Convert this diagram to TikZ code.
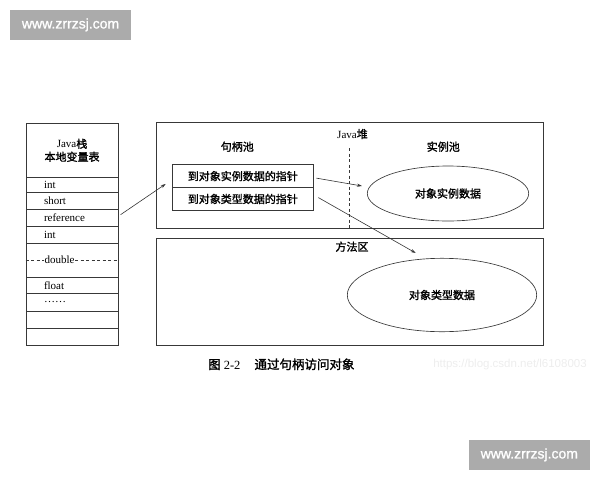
\documentclass[tikz,border=0pt]{standalone}
\usepackage{fontspec}
\setmainfont{Liberation Serif}
\newfontfamily\cjk{Noto Sans CJK SC}[FakeBold=1.6]
\newfontfamily\wmfont{Liberation Sans}[FakeBold=1.2]
\newfontfamily\wmlight{Liberation Sans}
\usetikzlibrary{shapes.geometric,arrows.meta,calc}
\begin{document}
\begin{tikzpicture}[x=1pt,y=-1pt,
  line/.style={draw=black!78, line width=0.65pt},
  cell/.style={line, rectangle, minimum width=92pt, inner xsep=18pt, text width=56pt,
     align=left, inner ysep=0pt, anchor=north west, font=\fontsize{11}{12}\selectfont},
  hcell/.style={line, rectangle, minimum width=140.4pt, inner sep=0pt, anchor=north west,
     font=\cjk\fontsize{11}{12}\selectfont},
  region/.style={line, rectangle, inner sep=0pt, anchor=north west},
  oval/.style={line, ellipse, inner sep=0pt, font=\cjk\fontsize{11}{12}\selectfont},
  lbl/.style={inner sep=0pt, font=\cjk\fontsize{11}{12}\selectfont},
  arr/.style={draw=black!80, line width=0.6pt, -{Stealth[length=5pt,width=3.2pt]}},
  wmbox/.style={fill=black!33, inner sep=0pt, anchor=north west, text=white,
     font=\wmfont\fontsize{14}{14}\selectfont},
]
\useasboundingbox (0,0) rectangle (600,480);

% watermarks
\node[wmbox, minimum width=120.7pt, minimum height=29.3pt] (wm1) at (10,10) {www.zrrzsj.com};
\node[wmbox, minimum width=121.7pt, minimum height=29.3pt] (wm2) at (468.3,440) {www.zrrzsj.com};
\node[inner sep=0pt, text=black!7, font=\wmlight\fontsize{11.5}{12}\selectfont] (wm3) at (510,364.3) {https://blog.csdn.net/l6108003};

% Java stack
\node[cell, minimum height=53.4pt, align=center, text width=56pt] (hdr) at (25.7,123.3)
  {Java{\cjk 栈}\\[1pt]{\cjk 本地变量表}};
\node[cell, minimum height=15.3pt] (r1) at (25.7,176.7) {int};
\node[cell, minimum height=17pt] (r2) at (25.7,192) {short};
\node[cell, minimum height=17pt] (r3) at (25.7,209) {reference};
\node[cell, minimum height=16.7pt] (r4) at (25.7,226) {int};
\node[cell, minimum height=34pt] (r5) at (25.7,242.7) {};
\node[cell, minimum height=16.6pt] (r6) at (25.7,276.7) {float};
\node[cell, minimum height=17.4pt] (r7) at (25.7,293.3) {……};
\node[cell, minimum height=17pt] (r8) at (25.7,310.7) {};
\node[cell, minimum height=17.3pt] (r9) at (25.7,327.7) {};
\draw[draw=black!78, line width=0.65pt, dash pattern=on 3pt off 2.5pt] (r5.west) -- (r5.east);
\node[fill=white, inner sep=1pt, anchor=west, font=\fontsize{11}{12}\selectfont] (dbl)
  at ($(r5.west)+(17.6,0)$) {double};

% Java heap
\node[region, minimum width=387.3pt, minimum height=106pt] (heap) at (156,122.3) {};
\node[lbl, font=\fontsize{11}{12}\selectfont] (heapl) at (352.5,134) {Java{\cjk 堆}};
\node[lbl] (hpool) at (237.3,146.7) {句柄池};
\node[lbl] (ipool) at (443.3,146.7) {实例池};
\coordinate (d1) at (349.3,148);
\draw[draw=black!78, line width=0.65pt, dash pattern=on 3pt off 2.5pt] (d1) -- (d1 |- heap.south);

\node[hcell, minimum height=23pt] (h1) at (172.3,164.3) {到对象实例数据的指针};
\node[hcell, minimum height=22.7pt] (h2) at (172.3,187.3) {到对象类型数据的指针};

\node[oval, minimum width=161.4pt, minimum height=55pt] (e1) at (448,193.5) {对象实例数据};

% method area
\node[region, minimum width=387.3pt, minimum height=107.3pt] (meth) at (156,237.7) {};
\node[lbl] (methl) at (352,246.7) {方法区};
\node[oval, minimum width=189.4pt, minimum height=73.4pt] (e2) at (442,295) {对象类型数据};

% arrows
\draw[arr] ($(r3.east)+(2.3,-3.2)$) -- ($(h1.south west)+(-6.6,-4)$);
\draw[arr] ($(h1.east)+(3,2)$) -- ($(e1.west)+(-5,-7.5)$);
\draw[arr] ($(h2.east)+(5,-1.4)$) -- ($(e2.north)+(-26.3,-5)$);

% caption
\node[inner sep=0pt, anchor=west, font=\fontsize{12.5}{13}\selectfont] (cap) at (208,364.3)
  {{\cjk 图} 2-2\hspace{14pt}{\cjk 通过句柄访问对象}};
\end{tikzpicture}
\end{document}
